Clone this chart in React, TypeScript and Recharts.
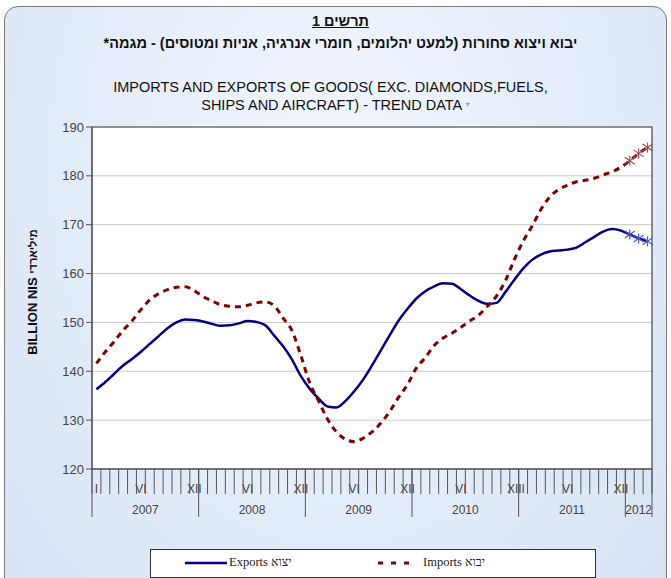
import { CartesianGrid, Line, LineChart, ReferenceArea, XAxis, YAxis } from 'recharts';

// Trend series, billion NIS, monthly I/2007 - III/2012 (last three months are provisional)
const YEARS = ['2007', '2008', '2009', '2010', '2011', '2012'];
const MONTHS_IN_YEAR = [12, 12, 12, 12, 12, 3];
const MONTH_LABELS: [number, string][] = [
  [0, 'I'], [5, 'VI'], [11, 'XII'],
  [17, 'VI'], [23, 'XII'],
  [29, 'VI'], [35, 'XII'],
  [41, 'VI'], [47, 'XII'],
  [48, 'I'], [53, 'VI'], [59, 'XII'],
];
const Y_TICKS = [120, 130, 140, 150, 160, 170, 180, 190];

const EXPORTS = [
  136.3, 137.8, 139.5, 141.2, 142.5, 144.0, 145.6, 147.2, 148.8, 150.0, 150.6, 150.5,
  150.2, 149.7, 149.3, 149.4, 149.8, 150.3, 150.1, 149.4, 147.3, 145.1, 142.4, 139.0,
  136.4, 134.4, 132.8, 132.6, 133.9, 135.9, 138.3, 141.2, 144.3, 147.4, 150.4, 152.8,
  154.9, 156.4, 157.4, 158.0, 157.9, 156.8, 155.5, 154.4, 153.8, 154.0, 156.2, 158.7,
  161.0, 162.8, 163.9, 164.5, 164.7, 164.9, 165.3, 166.4, 167.5, 168.6, 169.1, 168.8,
  168.0, 167.2, 166.6,
];
const IMPORTS = [
  141.6, 144.0, 146.1, 148.4, 150.3, 152.6, 154.6, 155.9, 156.7, 157.2, 157.3, 156.5,
  155.3, 154.4, 153.6, 153.3, 153.2, 153.5, 154.0, 154.2, 153.4, 150.9, 148.3, 143.2,
  137.6, 133.9, 130.2, 127.6, 126.1, 125.6, 126.3, 127.6, 129.4, 131.8, 134.7, 137.3,
  140.7, 142.8, 145.3, 146.8, 147.8, 149.0, 150.3, 151.5, 153.3, 155.4, 158.5, 162.8,
  166.6, 169.7, 173.1, 175.7, 177.2, 178.1, 178.8, 179.1, 179.5, 180.2, 180.8, 181.8,
  183.1, 184.6, 185.8,
];
const PROVISIONAL_FROM = 60;

const W = 671;
const H = 578;
const PLOT_LEFT = 92;
const PLOT_RIGHT = 652;
const N = EXPORTS.length;
const BAND = (PLOT_RIGHT - PLOT_LEFT) / N;

const data = EXPORTS.map((v, i) => ({ pos: i + 0.5, exports: v, imports: IMPORTS[i] }));
const xTicks = Array.from({ length: N + 1 }, (_, i) => i);

const yearStarts: number[] = [];
MONTHS_IN_YEAR.reduce((acc, n) => {
  yearStarts.push(acc);
  return acc + n;
}, 0);

const SANS = '"Liberation Sans", Arial, sans-serif';

function MonthTick({ x, y, payload }: any) {
  const v: number = payload.value;
  const label = MONTH_LABELS.find((m) => m[0] === v)?.[1];
  const isYearEdge = yearStarts.includes(v) || v === N;
  const yearIdx = yearStarts.findIndex((s, k) => Math.floor(s + MONTHS_IN_YEAR[k] / 2) === v);
  const yearOffset = yearIdx >= 0 ? ((yearStarts[yearIdx] + MONTHS_IN_YEAR[yearIdx] / 2) % 1) * BAND : 0;
  return (
    <g>
      {label && (
        <text x={x + BAND / 2} y={y + 24} textAnchor="middle" fontSize={12} fill="#444" fontFamily={SANS}>
          {label}
        </text>
      )}
      <line x1={x} x2={x} y1={y} y2={y + 25} stroke="#555" />
      {isYearEdge && <line x1={x} x2={x} y1={y} y2={y + 48} stroke="#555" />}
      {yearIdx >= 0 && (
        <text x={x + yearOffset} y={y + 45} textAnchor="middle" fontSize={12} fill="#444" fontFamily={SANS}>
          {YEARS[yearIdx]}
        </text>
      )}
    </g>
  );
}

function starDot(color: string) {
  return (props: any) => {
    const { cx, cy, index } = props;
    if (index < PROVISIONAL_FROM || cx == null) return <g key={index} />;
    const r = 5;
    return (
      <g key={index} stroke={color} strokeWidth={1.2}>
        <line x1={cx} x2={cx} y1={cy - r} y2={cy + r} />
        <line x1={cx - r} x2={cx + r} y1={cy - r * 0.7} y2={cy + r * 0.7} />
        <line x1={cx - r} x2={cx + r} y1={cy + r * 0.7} y2={cy - r * 0.7} />
      </g>
    );
  };
}

export default function App() {
  return (
    <div
      style={{
        position: 'fixed',
        left: 0,
        top: 0,
        width: W,
        height: H,
        overflow: 'hidden',
        background: '#fff',
      }}
    >
      <div
        style={{
          position: 'absolute',
          left: 4,
          top: 6,
          width: 661,
          height: 600,
          border: '1.5px solid #7a7a7a',
          borderRadius: 14,
          background: 'radial-gradient(ellipse at 50% 25%, #f2f6fd 0%, #e3ecf9 55%, #d6e3f5 100%)',
        }}
      />
      <div
        style={{
          position: 'absolute',
          left: 0,
          width: W,
          top: 13,
          textAlign: 'center',
          fontFamily: SANS,
          fontWeight: 'bold',
          fontSize: 14.5,
          color: '#111',
        }}
      >
        <div dir="rtl" style={{ textDecoration: 'underline', marginLeft: 10 }}>תרשים 1</div>
        <div dir="rtl" style={{ marginTop: 6, marginLeft: 10 }}>
          יבוא ויצוא סחורות (למעט יהלומים, חומרי אנרגיה, אניות ומטוסים) - מגמה*
        </div>
      </div>
      <div
        style={{
          position: 'absolute',
          left: 0,
          width: W,
          top: 78,
          textAlign: 'center',
          fontFamily: SANS,
          fontSize: 14.5,
          lineHeight: '18px',
          color: '#111',
        }}
      >
        <div style={{ marginRight: 10 }}>IMPORTS AND EXPORTS OF GOODS( EXC. DIAMONDS,FUELS,</div>
        <div>
          SHIPS AND AIRCRAFT) - TREND DATA <span style={{ color: '#888', fontSize: 11 }}>*</span>
        </div>
      </div>
      <div
        style={{
          position: 'absolute',
          left: 32,
          top: 292,
          transform: 'translate(-50%, -50%) rotate(-90deg)',
          whiteSpace: 'nowrap',
          fontFamily: SANS,
          fontWeight: 'bold',
          fontSize: 13,
          color: '#111',
        }}
      >
        BILLION NIS <span style={{ fontSize: 11 }}>מיליארדי</span>
      </div>

      <LineChart
        width={W}
        height={H}
        data={data}
        margin={{ top: 127, right: W - PLOT_RIGHT, bottom: H - 469 - 50, left: PLOT_LEFT - 40 }}
        style={{ position: 'absolute', left: 0, top: 0 }}
      >
        <CartesianGrid vertical={false} stroke="#c8c8c8" fill="#fff" />
        <XAxis
          type="number"
          dataKey="pos"
          domain={[0, N]}
          ticks={xTicks}
          interval={0}
          height={50}
          tickSize={0}
          tickMargin={0}
          tickLine={false}
          axisLine={{ stroke: '#555' }}
          tick={(p: any) => <MonthTick {...p} />}
        />
        <YAxis
          type="number"
          domain={[120, 190]}
          ticks={Y_TICKS}
          width={40}
          tickSize={6}
          tickMargin={2}
          axisLine={{ stroke: '#555' }}
          tickLine={{ stroke: '#555' }}
          tick={{ fontSize: 13, fill: '#444', fontFamily: SANS }}
        />
        <Line
          type="monotone"
          dataKey="exports"
          stroke="#000080"
          strokeWidth={2.5}
          dot={starDot('#4a5cc0')}
          activeDot={false}
          isAnimationActive={false}
        />
        <Line
          type="monotone"
          dataKey="imports"
          stroke="#800000"
          strokeWidth={3}
          strokeDasharray="6 5"
          dot={starDot('#9a5050')}
          activeDot={false}
          isAnimationActive={false}
        />
        <ReferenceArea x1={0} x2={N} y1={120} y2={190} fill="none" stroke="#444" strokeWidth={1.2} ifOverflow="visible" />
      </LineChart>

      <div
        style={{
          position: 'absolute',
          left: 150,
          top: 549,
          width: 444,
          height: 27,
          background: '#fff',
          border: '1px solid #333',
          fontFamily: '"Liberation Serif", "Times New Roman", serif',
          fontSize: 12.5,
          color: '#222',
        }}
      >
        <svg width={444} height={27} style={{ position: 'absolute', left: 0, top: 0 }}>
          <line x1={34} x2={76} y1={13} y2={13} stroke="#000080" strokeWidth={2.5} />
          <line x1={227} x2={262} y1={13} y2={13} stroke="#800000" strokeWidth={3} strokeDasharray="5 8" />
        </svg>
        <span style={{ position: 'absolute', left: 78, top: 5 }}>Exports יצוא</span>
        <span style={{ position: 'absolute', left: 272, top: 5 }}>Imports יבוא</span>
      </div>
    </div>
  );
}
